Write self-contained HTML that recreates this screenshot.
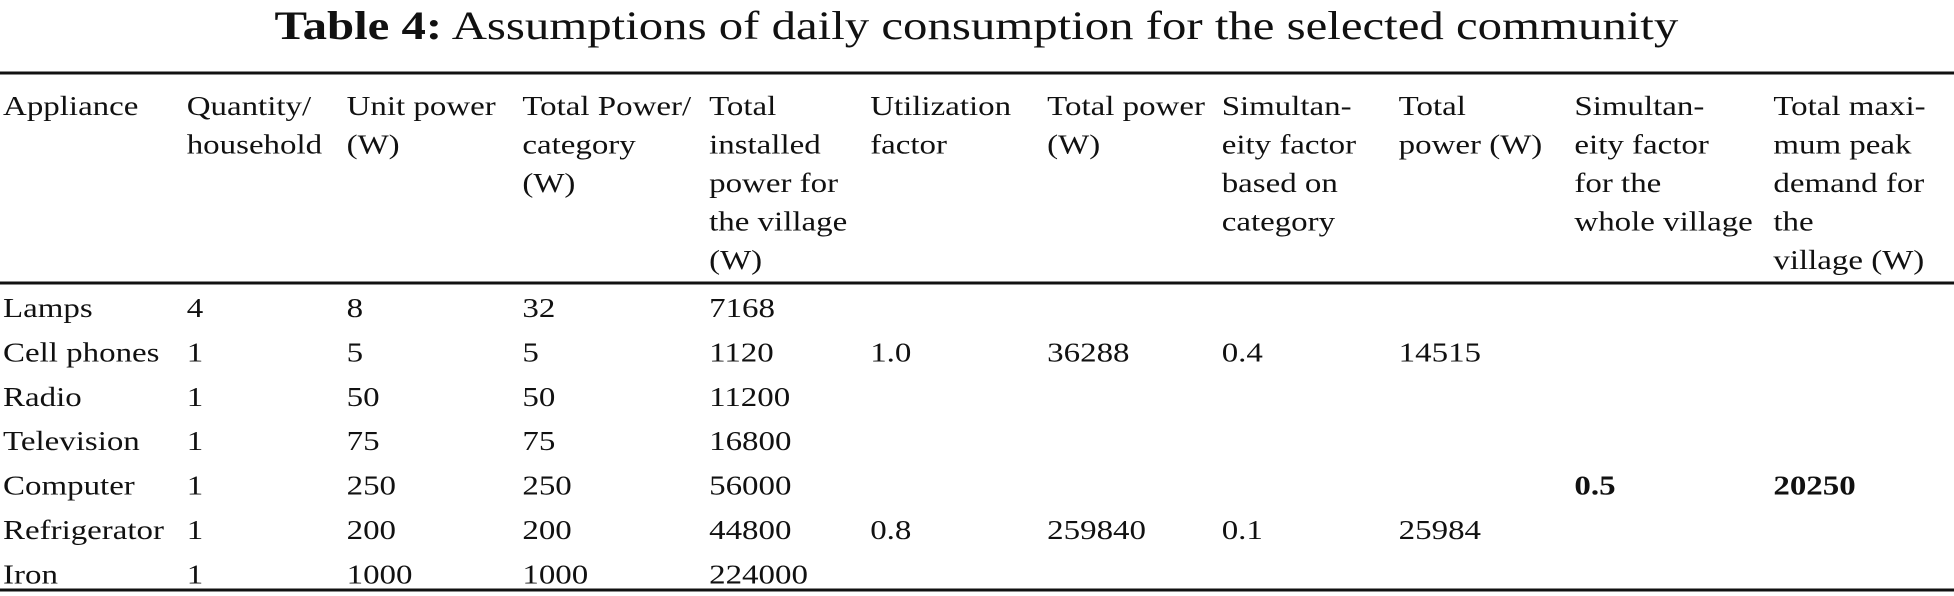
<!DOCTYPE html>
<html><head><meta charset="utf-8"><style>
html,body{margin:0;padding:0;background:#fff;}
svg{display:block;}
text{font-family:"Liberation Serif",serif;fill:#111;}
</style></head><body>
<svg width="1954" height="596" viewBox="0 0 1601 596" preserveAspectRatio="none">
<text x="800" y="39" text-anchor="middle" font-size="40"><tspan font-weight="bold">Table 4:</tspan>  Assumptions of daily consumption for the selected community</text>
<rect x="0" y="71.5" width="1601" height="3" fill="#111"/>
<rect x="0" y="281.5" width="1601" height="3" fill="#111"/>
<rect x="0" y="588.5" width="1601" height="3" fill="#111"/>
<g id="hdr" font-size="27"></g>
<g id="body" font-size="27"></g>
</svg>
<script>
const colX=[2.5,153,284,428,581,713,858,1001,1146,1290,1453];
const headers=[["Appliance"],["Quantity/","household"],["Unit power","(W)"],["Total Power/","category","(W)"],["Total","installed","power for","the village","(W)"],["Utilization","factor"],["Total power","(W)"],["Simultan-","eity factor","based on","category"],["Total","power (W)"],["Simultan-","eity factor","for the","whole village"],["Total maxi-","mum peak","demand for","the","village (W)"]];
const appliances=["Lamps","Cell phones","Radio","Television","Computer","Refrigerator","Iron"];
const quantity=["4","1","1","1","1","1","1"];
const unitPower=["8","5","50","75","250","200","1000"];
const catPower=["32","5","50","75","250","200","1000"];
const installed=["7168","1120","11200","16800","56000","44800","224000"];
const spans=[[1,["1.0","36288","0.4","14515"]],[5,["0.8","259840","0.1","25984"]]];
const villageRow=4, villageVals=["0.5","20250"];
const NS="http://www.w3.org/2000/svg";
function t(parent,x,y,s,bold,name){const e=document.createElementNS(NS,"text");e.setAttribute("x",x);e.setAttribute("y",y);if(bold)e.setAttribute("font-weight","bold");e.textContent=s;


parent.appendChild(e);}
const hdr=document.getElementById("hdr"),body=document.getElementById("body");
headers.forEach((lines,c)=>lines.forEach((s,i)=>t(hdr,colX[c],115+38.5*i,s,false,"header-cell")));
const rowY=r=>317+44.4*r;
appliances.forEach((a,r)=>{const y=rowY(r);
t(body,colX[0],y,a,false,"appliance-name");
t(body,colX[1],y,quantity[r],false,"quantity-cell");
t(body,colX[2],y,unitPower[r],false,"unit-power-cell");
t(body,colX[3],y,catPower[r],false,"category-power-cell");
t(body,colX[4],y,installed[r],false,"installed-power-cell");});
spans.forEach(([r,vals])=>vals.forEach((v,i)=>t(body,colX[5+i],rowY(r),v,false,"group-value-cell")));
villageVals.forEach((v,i)=>t(body,colX[9+i],rowY(villageRow),v,true,"village-value-cell"));
</script>
</body></html>
